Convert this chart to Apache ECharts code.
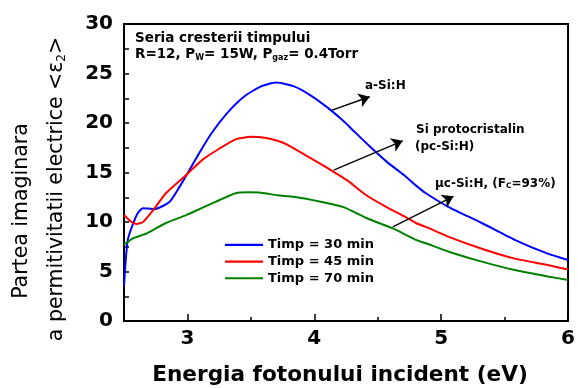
<!DOCTYPE html>
<html><head><meta charset="utf-8">
<script src="https://cdn.jsdelivr.net/npm/echarts@6/dist/echarts.min.js"></script>
<style>html,body{margin:0;padding:0;background:#fff}#c{width:578px;height:388px}</style>
</head><body><div id="c"></div>
<script>
// ---- data ----
const energyBlue = [2.5, 2.53, 2.6, 2.65, 2.74, 2.86, 2.94, 3.0, 3.09, 3.19, 3.32, 3.45, 3.58, 3.7, 3.84, 3.97, 4.1, 4.23, 4.31, 4.44, 4.57, 4.72, 4.8, 4.88, 5.06, 5.32, 5.58, 5.84, 6.0];
const epsBlue    = [3.5, 8.2, 10.7, 11.4, 11.3, 12.05, 13.6, 14.9, 16.9, 18.96, 21.1, 22.7, 23.7, 24.1, 23.7, 22.8, 21.6, 20.2, 19.2, 17.6, 16.1, 14.6, 13.7, 12.9, 11.5, 9.9, 8.2, 6.8, 6.16];
const energyRed  = [2.5, 2.55, 2.6, 2.65, 2.73, 2.83, 2.99, 3.12, 3.25, 3.38, 3.5, 3.61, 3.71, 3.79, 3.95, 4.13, 4.26, 4.41, 4.57, 4.72, 4.8, 4.88, 5.06, 5.32, 5.58, 5.84, 6.0];
const epsRed     = [10.7, 10.1, 9.8, 10.0, 11.2, 12.9, 14.75, 16.3, 17.4, 18.35, 18.6, 18.5, 18.2, 17.8, 16.6, 15.25, 14.2, 12.7, 11.5, 10.5, 9.9, 9.5, 8.5, 7.3, 6.3, 5.65, 5.2];
const energyGreen = [2.5, 2.57, 2.68, 2.83, 2.99, 3.12, 3.25, 3.38, 3.48, 3.58, 3.71, 3.84, 4.05, 4.23, 4.41, 4.62, 4.8, 4.88, 5.06, 5.32, 5.58, 5.84, 6.0];
const epsGreen    = [7.7, 8.35, 8.85, 9.9, 10.7, 11.45, 12.2, 12.9, 13.0, 12.96, 12.7, 12.55, 12.05, 11.5, 10.4, 9.35, 8.2, 7.85, 7.0, 6.0, 5.15, 4.5, 4.15];
const seriesNames = ['Timp = 30 min', 'Timp = 45 min', 'Timp = 70 min'];
const xTickLabels = [3, 4, 5, 6];
const yTickLabels = [0, 5, 10, 15, 20, 25, 30];

// ---- chart ----
const FONT = '"DejaVu Sans", sans-serif';
const chart = echarts.init(document.getElementById('c'));
const pairs = (xs, ys) => xs.map((x, i) => [x, ys[i]]);
const isInt = v => Math.abs(v - Math.round(v)) < 1e-6;
const subRich = (size, mainSize, pad) => ({
  n: { fontFamily: FONT, fontWeight: 'bold', fontSize: mainSize, lineHeight: mainSize + 1, verticalAlign: 'top', fill: '#000', color: '#000' },
  s: { fontFamily: FONT, fontWeight: 'bold', fontSize: size, lineHeight: size, verticalAlign: 'bottom', padding: [pad, 0, 0, 0], fill: '#000', color: '#000' }
});
const colors = ['#0000ff', '#ff0000', '#008000'];
const lineSeries = [pairs(energyBlue, epsBlue), pairs(energyRed, epsRed), pairs(energyGreen, epsGreen)].map((d, i) => ({
  name: seriesNames[i], type: 'line', data: d, symbol: 'none', showSymbol: false, smooth: 0.2,
  lineStyle: { color: colors[i], width: 2 }, itemStyle: { color: colors[i] }, z: 3
}));
const arrowSeries = {
  type: 'line', name: 'arrows', data: [], silent: true,
  markLine: {
    silent: true, symbol: ['none', 'arrow'], symbolSize: 11,
    label: { show: false }, lineStyle: { color: '#000', width: 1.4, type: 'solid' },
    emphasis: { disabled: true },
    data: [
      [{ coord: [4.14, 21.3] }, { coord: [4.437, 22.65] }],
      [{ coord: [4.153, 15.25] }, { coord: [4.697, 18.2] }],
      [{ coord: [4.619, 9.5] }, { coord: [5.097, 12.6] }]
    ]
  }
};
const tickStyle = { color: '#000', width: 1.5 };
const option = {
  animation: false,
  grid: { left: 124, right: 4, top: 24, bottom: 67, show: true, borderColor: '#000', borderWidth: 2, backgroundColor: 'transparent' },
  xAxis: [
    { type: 'value', min: 2.5, max: 6, interval: 0.5,
      axisLine: { onZero: false, lineStyle: { color: '#000', width: 2 } },
      axisTick: { inside: true, length: 4, lineStyle: tickStyle },
      axisLabel: { margin: 8, color: '#000', fontFamily: FONT, fontWeight: 'bold', fontSize: 20,
        formatter: v => (isInt(v) && xTickLabels.includes(Math.round(v))) ? String(Math.round(v)) : '' },
      splitLine: { show: false } },
    { type: 'value', min: 2.5, max: 6, position: 'bottom',
      axisLine: { show: false },
      axisTick: { inside: true, length: 7, customValues: xTickLabels, lineStyle: tickStyle },
      axisLabel: { show: false }, splitLine: { show: false } }
  ],
  yAxis: { type: 'value', min: 0, max: 30, interval: 5,
    axisLine: { show: true, onZero: false, lineStyle: { color: '#000', width: 2 } },
    axisTick: { show: true, inside: true, length: 5, lineStyle: tickStyle },
    minorTick: { show: true, splitNumber: 2, length: 5, lineStyle: tickStyle },
    axisLabel: { margin: 11, color: '#000', fontFamily: FONT, fontWeight: 'bold', fontSize: 20,
      formatter: v => yTickLabels.includes(v) ? String(v) : '' },
    splitLine: { show: false }, minorSplitLine: { show: false } },
  legend: {
    data: seriesNames.map(n => ({ name: n, icon: 'rect' })), orient: 'vertical', left: 220, top: 231.5,
    itemWidth: 38, itemHeight: 2.2, itemGap: 0, selectedMode: false,
    textStyle: { fontFamily: FONT, fontWeight: 'bold', fontSize: 13, lineHeight: 16.7, color: '#000' }
  },
  series: [...lineSeries, arrowSeries],
  graphic: [
    { type: 'text', x: 22, y: 211, rotation: Math.PI / 2, style: { text: 'Partea imaginara', fontFamily: FONT, fontSize: 20.5, fill: '#000', align: 'center', verticalAlign: 'middle' } },
    { type: 'text', x: 57, y: 189, rotation: Math.PI / 2, style: { text: '{m|a permitivitatii electrice <ε}{b|2}{m|>}', align: 'center', verticalAlign: 'middle',
      rich: { m: { fontFamily: FONT, fontSize: 20.5, lineHeight: 22, verticalAlign: 'top', fill: '#000', color: '#000' },
              b: { fontFamily: FONT, fontSize: 12, lineHeight: 12, verticalAlign: 'bottom', padding: [12, 0, 0, 0], fill: '#000', color: '#000' } } } },
    { type: 'text', x: 340, y: 375, style: { text: 'Energia fotonului incident (eV)', fontFamily: FONT, fontWeight: 'bold', fontSize: 21.6, fill: '#000', align: 'center', verticalAlign: 'middle' } },
    { type: 'text', x: 135, y: 38.5, style: { text: 'Seria cresterii timpului', fontFamily: FONT, fontWeight: 'bold', fontSize: 13.5, fill: '#000', align: 'left', verticalAlign: 'middle' } },
    { type: 'text', x: 135, y: 55, style: { text: '{n|R=12, P}{s|W}{n|= 15W, P}{s|gaz}{n|= 0.4Torr}', align: 'left', verticalAlign: 'middle', rich: subRich(8, 13.5, 7) } },
    { type: 'text', x: 365, y: 86, style: { text: 'a-Si:H', fontFamily: FONT, fontWeight: 'bold', fontSize: 12, fill: '#000', align: 'left', verticalAlign: 'middle' } },
    { type: 'text', x: 416, y: 130, style: { text: 'Si protocristalin', fontFamily: FONT, fontWeight: 'bold', fontSize: 12, fill: '#000', align: 'left', verticalAlign: 'middle' } },
    { type: 'text', x: 415, y: 146.7, style: { text: '(pc-Si:H)', fontFamily: FONT, fontWeight: 'bold', fontSize: 12, fill: '#000', align: 'left', verticalAlign: 'middle' } },
    { type: 'text', x: 435, y: 184, style: { text: '{n|μc-Si:H, (F}{s|C}{n|=93%)}', align: 'left', verticalAlign: 'middle', rich: subRich(7.5, 12, 6) } }
  ]
};
chart.setOption(option);
</script>
</body></html>
